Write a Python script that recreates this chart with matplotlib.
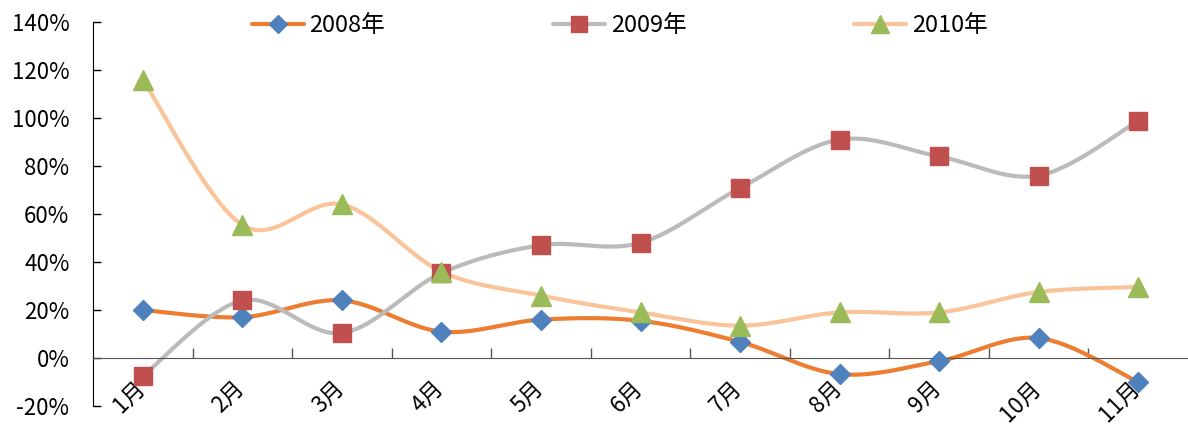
import numpy as np
import matplotlib.pyplot as plt
import matplotlib.transforms as mtransforms
from matplotlib.ticker import FuncFormatter

plt.rcParams['font.family'] = ['Noto Sans CJK SC', 'DejaVu Sans']

# monthly growth rates (%)
months = ['1月', '2月', '3月', '4月', '5月', '6月', '7月', '8月', '9月', '10月', '11月']
y2008 = [20, 17, 24, 11, 16, 15.5, 6.7, -6.7, -1.3, 8.3, -10]
y2009 = [-7.5, 24, 10.4, 35.4, 47, 48, 70.8, 91, 84, 76, 98.8]
y2010 = [116, 55.4, 64, 36, 26, 19, 13.5, 19, 19, 27.5, 29.6]


# smooth curve through the points, bezier segments like a spreadsheet "smoothed line"
def smooth(xs, ys, n=40):
    p = np.column_stack([xs, ys]).astype(float)
    ext = np.vstack([p[0], p, p[-1]])
    out = []
    t = np.linspace(0, 1, n)[:, None]
    for i in range(len(p) - 1):
        p0, p3 = ext[i + 1], ext[i + 2]
        c1 = p0 + (ext[i + 2] - ext[i]) / 6
        c2 = p3 - (ext[i + 3] - ext[i + 1]) / 6
        seg = ((1 - t) ** 3) * p0 + 3 * ((1 - t) ** 2) * t * c1 + 3 * (1 - t) * t ** 2 * c2 + t ** 3 * p3
        out.append(seg if i == 0 else seg[1:])
    out = np.vstack(out)
    return out[:, 0], out[:, 1]


fig = plt.figure(figsize=(11.88, 4.29), dpi=100)
ax = fig.add_axes([0.0783, 0.0536, 0.9217, 0.8951])

# spine position first, it resets the tick settings
for s in ('top', 'right'):
    ax.spines[s].set_visible(False)
ax.spines['bottom'].set_position(('data', 0))
ax.spines['bottom'].set_color('#555555')
ax.spines['left'].set_color('black')

x = np.arange(len(months))
series = [
    (y2008, '2008年', '#ED7D31', '#4F81BD', 'D', 10),
    (y2009, '2009年', '#BBBBBB', '#C0504D', 's', 12.5),
    (y2010, '2010年', '#FAC49A', '#9BBB59', '^', 14),
]
for ys, label, lc, mc, mk, ms in series:
    sx, sy = smooth(x, ys)
    ax.plot(sx, sy, color=lc, lw=3, solid_capstyle='round', zorder=2)
    ax.plot(x, ys, ls='none', marker=mk, ms=ms, mfc=mc, mec=mc, zorder=3)
    # legend proxy
    ax.plot([], [], color=lc, lw=3, solid_capstyle='round', marker=mk, ms=ms * 0.9,
            mfc=mc, mec=mc, label=label)

ax.set_xlim(-0.5, 10.5)
ax.set_ylim(-20, 140)
ax.set_yticks(np.arange(-20, 141, 20))
ax.yaxis.set_major_formatter(FuncFormatter(lambda v, _: f'{v:.0f}%'))
ax.tick_params(axis='y', direction='in', length=6, width=1, labelsize=16, pad=17)

ax.set_xticks(x)
ax.set_xticks(np.arange(0.5, 10, 1), minor=True)
ax.set_xticklabels(months, rotation=45, ha='right', va='top', rotation_mode='anchor', fontsize=16)
ax.tick_params(axis='x', which='major', length=0, pad=13)
ax.tick_params(axis='x', which='minor', direction='in', length=7, width=1, color='#555555')

# nudge month labels a little to the left
shift = mtransforms.ScaledTranslation(-7 / 72, 0, fig.dpi_scale_trans)
for lbl in ax.get_xticklabels():
    lbl.set_transform(lbl.get_transform() + shift)

ax.legend(loc='upper center', bbox_to_anchor=(0.481, 1.075), ncol=3, frameon=False,
          fontsize=17, columnspacing=7.1, handlelength=2.2, handletextpad=0.25)

fig.savefig('out.png', dpi=100)
